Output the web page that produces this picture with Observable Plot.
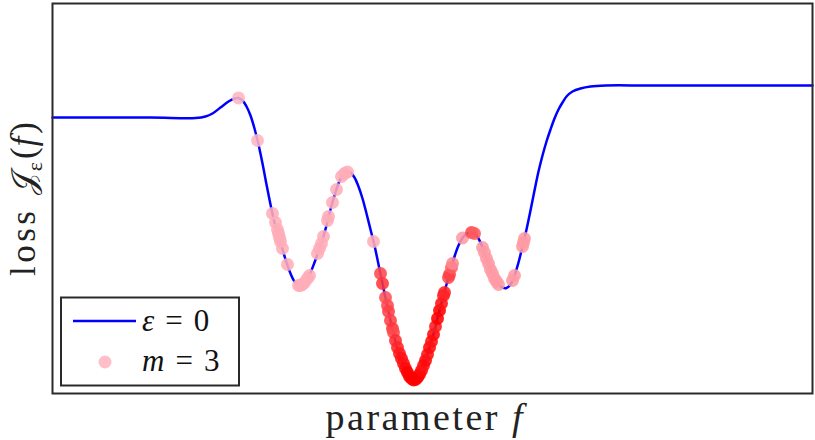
<!DOCTYPE html>
<html>
<head>
<meta charset="utf-8">
<script src="https://cdn.jsdelivr.net/npm/d3@7"></script>
<script src="https://cdn.jsdelivr.net/npm/@observablehq/plot@0.6"></script>
<style>
  html, body { margin: 0; padding: 0; background: #fff; }
  #chart svg { display: block; }
</style>
</head>
<body>
<div id="chart"></div>
<script>
// Loss curve (ε = 0)
const lossX = [0, 12.25, 17.875, 19.125, 20, 21, 22, 22.75, 23.25, 23.75, 24.25, 24.75, 25.25, 25.75, 26.25, 26.75, 27.25, 27.75, 28.25, 28.75, 29.25, 29.75, 30.25, 30.75, 31.25, 31.75, 32.25, 32.75, 33.25, 33.75, 34.25, 34.75, 35.25, 35.75, 36.25, 36.75, 37.25, 37.75, 38.25, 38.75, 39.25, 39.75, 40.25, 40.75, 41.25, 41.75, 42.25, 42.75, 43.25, 43.75, 44.25, 44.75, 45.25, 45.75, 46.25, 46.75, 47.25, 47.75, 48.25, 48.75, 49.25, 49.75, 50.25, 50.75, 51.25, 51.75, 52.25, 52.75, 53.25, 53.75, 54.25, 54.75, 55.25, 55.75, 56.25, 56.75, 57.25, 57.75, 58.25, 58.75, 59.25, 59.75, 60.25, 60.75, 61.25, 61.75, 62.25, 62.75, 63.25, 63.75, 64.25, 65, 66, 67.25, 69.125, 74.75, 95];
const lossY = [6.9, 6.9, 6.8875, 6.925, 7.0, 7.15, 7.3, 7.375, 7.3875, 7.325, 7.175, 6.95, 6.625, 6.225, 5.75, 5.225, 4.725, 4.275, 3.925, 3.6, 3.275, 3.0, 2.8, 2.7, 2.7125, 2.825, 3.025, 3.275, 3.55, 3.85, 4.2, 4.6, 4.95, 5.25, 5.45, 5.5375, 5.525, 5.4, 5.175, 4.875, 4.5, 4.1, 3.7, 3.225, 2.75, 2.275, 1.825, 1.4, 1.025, 0.725, 0.5, 0.3625, 0.325, 0.4125, 0.625, 0.9, 1.225, 1.575, 1.975, 2.35, 2.725, 3.075, 3.425, 3.7, 3.8875, 3.9875, 4.025, 4.0, 3.875, 3.65, 3.375, 3.1, 2.875, 2.725, 2.65, 2.6375, 2.725, 2.95, 3.275, 3.675, 4.1, 4.575, 5.075, 5.55, 5.95, 6.3, 6.6, 6.875, 7.1, 7.275, 7.425, 7.55, 7.625, 7.675, 7.7, 7.7, 7.7];

// Sampled points (m = 3) and their weight (pink -> red)
const ptX = [23.25, 25.625, 27.5, 27.875, 28.125, 28.25, 28.375, 28.5, 28.75, 29.375, 30.75, 31.0, 31.25, 31.5, 31.875, 32.125, 33.125, 33.375, 33.625, 33.875, 34.375, 34.5, 35.0, 35.5, 36.125, 36.5, 36.875, 40.125, 41.0, 41.25, 41.625, 41.875, 42.0, 42.25, 42.5, 42.625, 42.875, 43.125, 43.375, 43.625, 43.875, 44.125, 44.375, 44.625, 44.875, 45.125, 45.375, 45.625, 45.875, 46.125, 46.375, 46.625, 46.875, 47.125, 47.375, 47.625, 47.875, 48.125, 48.375, 48.625, 48.875, 49.0, 49.5, 49.625, 49.875, 50.0, 51.25, 52.375, 52.75, 53.75, 54.0, 54.25, 54.5, 54.75, 55.0, 55.25, 55.5, 55.75, 57.5, 57.75, 58.75, 58.875, 59.0];
const ptY = [7.39, 6.325, 4.5, 4.275, 4.1, 4.0, 3.9, 3.8, 3.625, 3.225, 2.7, 2.7, 2.725, 2.775, 2.875, 2.95, 3.5, 3.625, 3.75, 3.925, 4.325, 4.425, 4.775, 5.1, 5.425, 5.5, 5.5375, 3.8, 3.0, 2.75, 2.4, 2.2, 2.05, 1.825, 1.625, 1.525, 1.325, 1.15, 1.0, 0.875, 0.75, 0.625, 0.525, 0.425, 0.375, 0.3375, 0.35, 0.4, 0.475, 0.575, 0.7, 0.825, 0.975, 1.15, 1.3, 1.475, 1.675, 1.875, 2.075, 2.25, 2.45, 2.525, 2.9, 2.975, 3.15, 3.25, 3.8875, 4.025, 4.0, 3.65, 3.525, 3.375, 3.25, 3.1, 3.0, 2.875, 2.8, 2.725, 2.825, 2.95, 3.675, 3.775, 3.875];
const ptW = [0, 0, 0.05, 0.05, 0.05, 0.05, 0.05, 0.05, 0.05, 0.05, 0.05, 0.05, 0.05, 0.05, 0.05, 0.05, 0.05, 0.05, 0.05, 0.05, 0.05, 0.05, 0.05, 0.05, 0.05, 0.05, 0.05, 0.05, 0.6, 0.7, 0.55, 0.6, 0.65, 0.65, 0.7, 0.6, 0.75, 0.8, 0.85, 0.9, 0.9, 0.95, 1, 1, 1, 1, 1, 1, 1, 0.95, 0.9, 0.95, 0.9, 0.95, 0.9, 0.95, 0.85, 1, 1, 0.9, 0.85, 0.8, 0.6, 0.65, 0.5, 0.25, 0.15, 0.6, 0.5, 0.15, 0.15, 0.15, 0.15, 0.15, 0.15, 0.15, 0.15, 0.15, 0.15, 0.15, 0.15, 0.15, 0.15];

const lineData = lossX.map((x, i) => ({x, y: lossY[i]}));
const ptData = ptX.map((x, i) => ({x, y: ptY[i], w: ptW[i]}));

const serif = "'Liberation Serif', 'DejaVu Serif', serif";

const chart = Plot.plot({
  width: 815,
  height: 440,
  marginLeft: 52,
  marginRight: 3,
  marginTop: 3,
  marginBottom: 47,
  x: {domain: [0, 95], axis: null},
  y: {domain: [0, 9.75], axis: null},
  color: {type: "linear", domain: [0, 1], range: ["#ffb6c1", "#ff0000"]},
  marks: [
    Plot.line(lineData, {x: "x", y: "y", stroke: "#0000ff", strokeWidth: 2.5, curve: "catmull-rom"}),
    Plot.dot(ptData, {x: "x", y: "y", fill: "w", r: 6.5, fillOpacity: 0.88}),
    Plot.frame({stroke: "#2a2a2a", strokeWidth: 2})
  ]
});
document.getElementById("chart").appendChild(chart);

const svg = d3.select(chart);

// x label
const xl = svg.append("text")
  .attr("x", 424).attr("y", 430)
  .attr("text-anchor", "middle")
  .attr("font-family", serif).attr("font-size", 38)
  .attr("fill", "#222");
xl.append("tspan").attr("letter-spacing", "2.5px").text("parameter ");
xl.append("tspan").attr("font-style", "italic").text("f");

// y label
const yl = svg.append("text")
  .attr("transform", "translate(35,199) rotate(-90)")
  .attr("text-anchor", "middle")
  .attr("font-family", serif).attr("font-size", 35)
  .attr("fill", "#222");
yl.append("tspan").attr("letter-spacing", "3.5px").text("loss ");
yl.append("tspan").attr("font-family", "'DejaVu Sans', 'DejaVu Serif', serif").attr("font-size", 33).text("𝒥");
yl.append("tspan").attr("font-size", 22).attr("dy", 7).attr("dx", 1).text("ε");
yl.append("tspan").attr("dy", -7).attr("dx", 3).text("(");
yl.append("tspan").attr("font-style", "italic").attr("dx", 1).text("f");
yl.append("tspan").attr("dx", 3).text(")");

// legend
const lg = svg.append("g").attr("text-anchor", "start");
lg.append("rect").attr("x", 61).attr("y", 297.5).attr("width", 178).attr("height", 88)
  .attr("fill", "#fff").attr("stroke", "#2a2a2a").attr("stroke-width", 2);
lg.append("line").attr("x1", 73).attr("x2", 136).attr("y1", 321).attr("y2", 321)
  .attr("stroke", "#0000ff").attr("stroke-width", 2.5);
lg.append("circle").attr("cx", 105).attr("cy", 362).attr("r", 6.5)
  .attr("fill", "#ffb6c1").attr("fill-opacity", 0.88);
const t1 = lg.append("text").attr("x", 142).attr("y", 331)
  .attr("font-family", serif).attr("font-size", 31).attr("fill", "#111")
  .attr("text-anchor", "start");
t1.append("tspan").attr("font-style", "italic").text("ε");
t1.append("tspan").attr("dx", 11).text("=");
t1.append("tspan").attr("dx", 11).text("0");
const t2 = lg.append("text").attr("x", 142).attr("y", 371)
  .attr("font-family", serif).attr("font-size", 31).attr("fill", "#111")
  .attr("text-anchor", "start");
t2.append("tspan").attr("font-style", "italic").text("m");
t2.append("tspan").attr("dx", 11).text("=");
t2.append("tspan").attr("dx", 11).text("3");
</script>
</body>
</html>
